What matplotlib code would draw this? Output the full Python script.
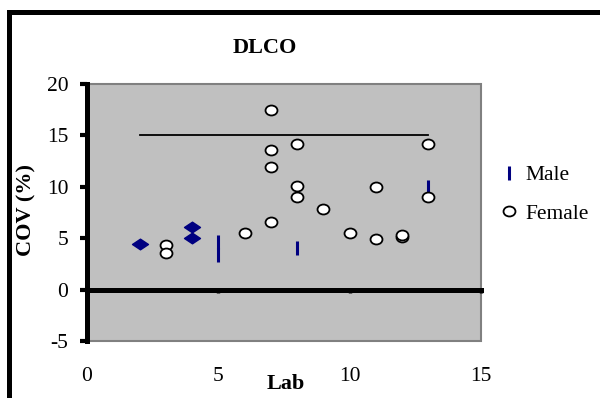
import matplotlib
matplotlib.use("Agg")
import matplotlib.pyplot as plt
from matplotlib.path import Path
from matplotlib.transforms import Affine2D
from matplotlib.patches import Rectangle

plt.rcParams['font.family'] = ['Liberation Serif', 'DejaVu Serif']
plt.rcParams['axes.unicode_minus'] = False

# ---- data ----
female_x = [3, 3, 6, 7, 7, 7, 7, 8, 8, 8, 9, 10, 11, 11, 12, 12, 13, 13]
female_y = [4.35, 3.55, 5.5, 17.5, 13.6, 11.9, 6.55, 14.2, 10.1, 9.0, 7.8, 5.5,
            10.0, 4.9, 5.1, 5.3, 14.2, 9.0]
male_x = [5, 5, 8, 13]
male_y = [3.4, 4.6, 4.0, 10.0]
other_x = [2, 4, 4]
other_y = [4.4, 6.1, 5.0]
ref_x = [2, 13]
ref_y = [15, 15]
x_ticks = [0, 5, 10, 15]
y_ticks = [-5, 0, 5, 10, 15, 20]

navy = '#000080'

fig = plt.figure(figsize=(6.0, 3.98), dpi=100)
ax = fig.add_axes([87/600, 1 - 341/398, 394/600, 257/398])
ax.set_facecolor('#C0C0C0')
ax.patch.set_edgecolor('#808080')
ax.patch.set_linewidth(1.5)

ellipse = Affine2D().scale(1.2, 1.0).transform_path(Path.unit_circle())
diamond = Path([(-1.5, 0), (0, 1), (1.5, 0), (0, -1), (-1.5, 0)],
               [Path.MOVETO, Path.LINETO, Path.LINETO, Path.LINETO, Path.CLOSEPOLY])

ax.plot(ref_x, ref_y, color='black', lw=1.3, zorder=2, label='_nolegend_')
ax.plot(other_x, other_y, ls='none', marker=diamond, ms=11.5, color=navy,
        mec=navy, zorder=3, label='_nolegend_')
ax.plot(male_x, male_y, ls='none', marker='|', ms=9.5, mew=2.2, color=navy,
        zorder=3, label='Male')
ax.plot(female_x, female_y, ls='none', marker=ellipse, ms=8.6, mfc='white',
        mec='black', mew=1.3, zorder=4, label='Female')

ax.set_xlim(0, 15)
ax.set_ylim(-5, 20)
ax.set_xticks(x_ticks)
ax.set_yticks(y_ticks)

for s in ['top', 'right']:
    ax.spines[s].set_visible(False)
ax.spines['left'].set_linewidth(3.6)
ax.spines['left'].set_color('black')
ax.spines['bottom'].set_position(('data', 0))
ax.spines['bottom'].set_linewidth(3.6)
ax.spines['bottom'].set_color('black')
ax.spines['left'].set_zorder(5)
ax.spines['bottom'].set_zorder(5)

ax.tick_params(axis='y', direction='out', length=5, width=3, pad=8.5,
               labelsize=15.5, colors='black')
ax.tick_params(axis='x', direction='out', length=2.5, width=2.5, pad=53,
               labelsize=15.5, colors='black')

ax.set_ylabel('COV (%)', fontsize=16, fontweight='bold')
ax.yaxis.set_label_coords((36 - 87) / 394, 0.51)
ax.set_xlabel('Lab', fontsize=16, fontweight='bold')
ax.xaxis.set_label_coords((286 - 87) / 394, (341 - 374) / 257)

fig.text(265/600, 1 - 48/398, 'DLCO', fontsize=16, fontweight='bold',
         ha='center', va='center')

ax.legend(loc='center left', bbox_to_anchor=(500/600, 1 - 194.5/398),
          bbox_transform=fig.transFigure, frameon=False, fontsize=15.5,
          handlelength=0.8, handletextpad=0.4, labelspacing=0.85,
          borderpad=0, borderaxespad=0)

fig.patches.append(Rectangle((9/600, -0.1), 1.2, 1.1 - 12.5/398,
                             transform=fig.transFigure, fill=False,
                             edgecolor='black', lw=3.6, zorder=10))

fig.savefig('out.png', dpi=100)
